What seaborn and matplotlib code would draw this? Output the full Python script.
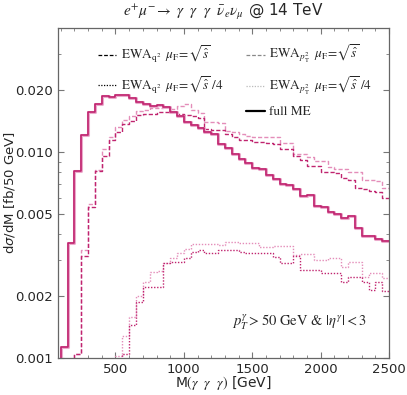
import numpy as np
import matplotlib
matplotlib.use("Agg")
import matplotlib.pyplot as plt
from matplotlib.lines import Line2D
from matplotlib.ticker import FixedLocator, NullFormatter, FormatStrFormatter, MultipleLocator
import seaborn as sns

BIN_WIDTH = 50
X_MIN, X_MAX = 80, 2500
Y_MIN, Y_MAX = 0.001, 0.04

# first bin lower edge [GeV] and bin contents [fb / 50 GeV] per sample
full_me_start = 100
full_me = np.array([
    1.13, 3.6, 8.1, 12.1, 15.6, 17.2, 18.8, 18.6, 19.0, 19.0,
    18.3, 17.6, 17.1, 16.8, 16.9, 16.6, 15.7, 15.0, 14.0, 13.6,
    13.1, 12.5, 12.3, 11.0, 10.5, 9.8, 9.3, 8.9, 8.4, 8.3,
    7.7, 7.4, 7.0, 6.9, 6.6, 6.1, 6.2, 5.5, 5.4, 5.1,
    5.0, 4.8, 4.9, 4.3, 3.9, 3.9, 3.8, 3.7]) * 1e-3

ewa_q2_start = 200
ewa_q2 = np.array([
    1.05, 3.14, 5.4, 8.1, 9.6, 11.5, 12.5, 13.7, 14.2, 15.1,
    15.4, 15.4, 15.7, 15.7, 15.6, 15.4, 15.2, 15.0, 14.6, 13.0,
    12.8, 12.8, 12.2, 11.8, 11.5, 11.4, 11.2, 11.2, 11.1, 11.0,
    10.4, 10.4, 9.6, 9.2, 8.6, 8.6, 8.0, 8.0, 7.9, 7.5,
    7.3, 6.7, 6.6, 6.5, 6.4, 6.0]) * 1e-3

ewa_pt2_start = 200
ewa_pt2 = np.array([
    1.05, 3.34, 5.6, 8.2, 10.4, 11.8, 13.3, 14.3, 14.9, 15.9,
    16.1, 16.3, 16.3, 16.6, 16.2, 16.8, 17.2, 16.0, 15.5, 14.0,
    14.0, 13.8, 12.6, 12.5, 12.2, 12.0, 11.8, 11.9, 11.9, 11.9,
    11.1, 11.1, 9.8, 9.8, 9.5, 9.1, 9.1, 8.5, 8.3, 8.3,
    8.0, 8.0, 7.3, 7.3, 7.2, 6.7]) * 1e-3

ewa_q2_quarter_start = 550
ewa_q2_quarter = np.array([
    1.05, 1.45, 1.88, 2.22, 2.22, 2.22, 2.88, 2.93, 2.93, 3.05,
    3.26, 3.34, 3.22, 3.22, 3.34, 3.36, 3.36, 3.26, 3.22, 3.22,
    3.22, 3.22, 3.08, 2.90, 2.90, 3.13, 2.69, 2.69, 2.69, 2.59,
    2.59, 2.59, 2.35, 2.48, 2.48, 2.35, 2.14, 2.35, 2.12]) * 1e-3

ewa_pt2_quarter_start = 500
ewa_pt2_quarter = np.array([
    1.02, 1.28, 1.59, 2.0, 2.35, 2.62, 2.65, 2.88, 3.05, 3.22,
    3.40, 3.57, 3.57, 3.57, 3.57, 3.53, 3.66, 3.66, 3.6, 3.6,
    3.6, 3.47, 3.47, 3.5, 3.5, 3.5, 3.16, 3.2, 3.2, 2.99,
    2.99, 3.05, 3.05, 2.78, 2.93, 2.93, 2.48, 2.59, 2.59, 2.44]) * 1e-3

DARK = "#C0246F"
LIGHT = "#E48DB9"
HALO = "#EBA9CB"


def draw_steps(ax, start, values, **kw):
    # histogram outline: rise from below the axis, then one step per bin
    edges = start + BIN_WIDTH * np.arange(len(values) + 1)
    x = np.r_[edges[0], edges]
    y = np.r_[Y_MIN / 2, values, values[-1]]
    sns.lineplot(x=x, y=y, drawstyle="steps-post", estimator=None,
                 sort=False, ax=ax, **kw)


sns.set_style("ticks")
plt.rcParams["font.family"] = ["DejaVu Sans"]

fig = plt.figure(figsize=(4.07, 3.95), dpi=100)
ax = fig.add_axes([0.1425, 0.0937, 0.8135, 0.835])
ax.set_yscale("log")

draw_steps(ax, ewa_pt2_quarter_start, ewa_pt2_quarter, color=LIGHT, lw=1.0, linestyle=(0, (1, 1.2)))
draw_steps(ax, ewa_q2_quarter_start, ewa_q2_quarter, color=DARK, lw=1.0, linestyle=(0, (1, 1.2)))
draw_steps(ax, ewa_pt2_start, ewa_pt2, color=LIGHT, lw=1.0, linestyle=(0, (3, 1.5)))
draw_steps(ax, ewa_q2_start, ewa_q2, color=DARK, lw=1.0, linestyle=(0, (3, 1.5)))
draw_steps(ax, full_me_start, full_me, color=HALO, lw=2.2)
draw_steps(ax, full_me_start, full_me, color=DARK, lw=1.2)

ax.set_xlim(X_MIN, X_MAX)
ax.set_ylim(Y_MIN, Y_MAX)

ax.xaxis.set_major_locator(FixedLocator([500, 1000, 1500, 2000, 2500]))
ax.xaxis.set_minor_locator(MultipleLocator(100))
ax.yaxis.set_major_locator(FixedLocator([0.001, 0.002, 0.005, 0.01, 0.02]))
ax.yaxis.set_major_formatter(FormatStrFormatter("%.3f"))
ax.yaxis.set_minor_locator(FixedLocator([0.003, 0.004, 0.006, 0.007, 0.008, 0.009, 0.03, 0.04]))
ax.yaxis.set_minor_formatter(NullFormatter())
ax.tick_params(which="both", direction="in", top=True, right=True,
               color="#777777", labelsize=9.5)
ax.tick_params(which="major", length=4)
ax.tick_params(which="minor", length=2)
for sp in ax.spines.values():
    sp.set_color("#666666")
    sp.set_linewidth(0.9)

ax.set_xlabel(r"M$(\gamma\ \ \gamma\ \ \gamma)$ [GeV]", fontsize=10, math_fontfamily="stix")
ax.xaxis.set_label_coords(0.5, -0.05)
ax.set_ylabel(r"d$\sigma$/dM [fb/50 GeV]", fontsize=9.5)
ax.yaxis.set_label_coords(-0.124, 0.5)
ax.set_title(r"$e^{+}\mu^{-}\!\rightarrow\ \gamma\ \ \gamma\ \ \gamma\ \ \bar{\nu}_e\nu_\mu$ @ 14 TeV",
             fontsize=11, math_fontfamily="stix", pad=9)

ax.text(0.73, 0.105, r"$p_T^{\gamma} > 50$ GeV & $|\eta^{\gamma}| < 3$",
        transform=ax.transAxes, ha="center", va="center", fontsize=10.5,
        family="STIXGeneral", math_fontfamily="stix")

handles = [
    Line2D([], [], color="black", lw=0.9, linestyle=(0, (3, 1.5)),
           label=r"$\mathrm{EWA}_{\mathrm{q}^2}\;\;\mu_{\mathrm{F}}\!=\!\sqrt{\hat{s}}$"),
    Line2D([], [], color="black", lw=0.9, linestyle=(0, (1, 1.2)),
           label=r"$\mathrm{EWA}_{\mathrm{q}^2}\;\;\mu_{\mathrm{F}}\!=\!\sqrt{\hat{s}}\;/4$"),
    Line2D([], [], color="none", label=" "),
    Line2D([], [], color="#888888", lw=0.9, linestyle=(0, (3, 1.5)),
           label=r"$\mathrm{EWA}_{p_{\mathrm{T}}^{2}}\;\;\mu_{\mathrm{F}}\!=\!\sqrt{\hat{s}}$"),
    Line2D([], [], color="#BBBBBB", lw=0.9, linestyle=(0, (1, 1.2)),
           label=r"$\mathrm{EWA}_{p_{\mathrm{T}}^{2}}\;\;\mu_{\mathrm{F}}\!=\!\sqrt{\hat{s}}\;/4$"),
    Line2D([], [], color="black", lw=1.6, label="full ME"),
]
ax.legend(handles=handles, ncol=2, loc="upper left", bbox_to_anchor=(0.085, 0.99),
          frameon=False, handlelength=1.4, handletextpad=0.35, columnspacing=1.7,
          labelspacing=0.7, prop={"family": "STIXGeneral", "size": 9.5, "math_fontfamily": "stix"})

fig.savefig("out.png", dpi=100)
